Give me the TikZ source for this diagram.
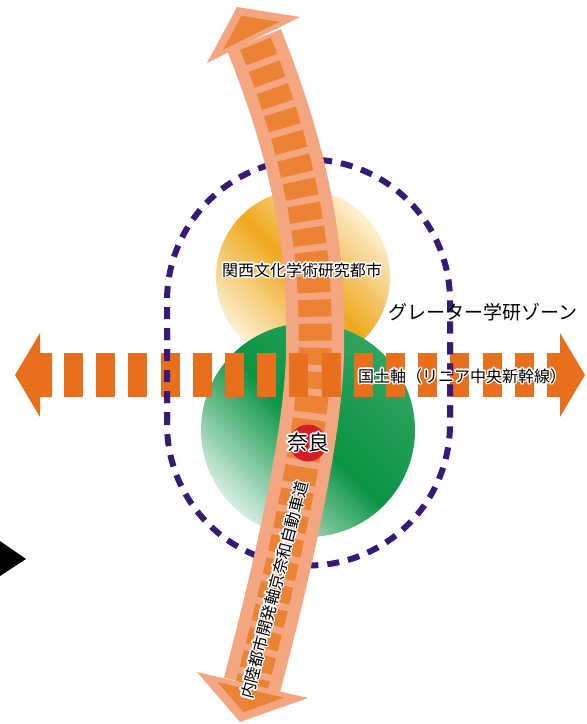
\documentclass[tikz,border=0pt]{standalone}
\usepackage{fontspec}
\setmainfont{Noto Sans CJK JP}
\usepackage{contour}
\contourlength{1.4pt}
\usetikzlibrary{calc}
\definecolor{railorange}{RGB}{232,112,28}
\definecolor{roadpeach}{RGB}{243,166,128}
\definecolor{roadrect}{RGB}{236,130,52}
\definecolor{zonepurple}{RGB}{56,26,118}
\definecolor{narared}{RGB}{215,28,40}
\definecolor{sunorange}{RGB}{238,168,30}
\definecolor{suncream}{RGB}{253,240,210}
\definecolor{hillgreen}{RGB}{10,148,68}
\definecolor{hillpale}{RGB}{214,238,226}
\newcommand{\zoneloop}{(167,424) -- (167,301) arc[start angle=180, end angle=360, radius=141.5] -- (450,424) arc[start angle=0, end angle=180, radius=141.5] -- cycle}
\newcommand{\roadline}{(roadtop) .. controls (282,110) and (316,210) .. (roadmid) .. controls (318,410) and (290,540) .. (roadend)}

\begin{document}
\begin{tikzpicture}[x=1pt, y=-1pt,
        road/.style={line width=58pt, draw=roadpeach},
        roadmarks/.style={line width=33pt, draw=roadrect, dash pattern=on 17pt off 7pt, dash phase=20pt},
        rail/.style={fill=railorange},
        zone/.style={draw=zonepurple, line width=6pt, dash pattern=on 12pt off 9pt},
        label/.style={inner sep=0pt, font=\fontsize{16}{18}\selectfont}
    ]
        \useasboundingbox (0,0) rectangle (587,724);

        \shade[top color=suncream, bottom color=suncream, middle color=sunorange, shading angle=-45] (303,277) circle (87);
        \shade[top color=hillgreen!85, bottom color=hillpale, middle color=hillgreen, shading angle=-45] (308,430) circle (107);

        \draw[zone] \zoneloop;

        \coordinate (roadtop) at (254,40);
        \coordinate (roadmid) at (315,330);
        \coordinate (roadend) at (252,685);
        \draw[road] \roadline;
        \draw[roadmarks] \roadline;

        \coordinate (headNL) at (207,63);
        \coordinate (headNR) at (300,17);
        \coordinate (headN) at (237,7);
        \coordinate (headNc) at ($0.3333*(headNL)+0.3333*(headNR)+0.3334*(headN)$);
        \fill[roadpeach] (headNL) -- (headN) -- (headNR) -- cycle;
        \fill[roadrect] ($(headNc)!0.6!(headNL)$) -- ($(headNc)!0.6!(headN)$) -- ($(headNc)!0.6!(headNR)$) -- cycle;

        \coordinate (headSL) at (197,672);
        \coordinate (headSR) at (308,698);
        \coordinate (headS) at (240,722);
        \coordinate (headSc) at ($0.3333*(headSL)+0.3333*(headSR)+0.3334*(headS)$);
        \fill[roadpeach] (headSL) -- (headS) -- (headSR) -- cycle;
        \fill[roadrect] ($(headSc)!0.6!(headSL)$) -- ($(headSc)!0.6!(headS)$) -- ($(headSc)!0.6!(headSR)$) -- cycle;

        \fill[rail] (15,375) -- (40,333) -- (40,353) -- (52,353) -- (52,397) -- (40,397) -- (40,417) -- cycle;
        \fill[rail] (585,375) -- (560,333) -- (560,353) -- (547,353) -- (547,397) -- (560,397) -- (560,417) -- cycle;
        \foreach \k in {0,...,14}
            \fill[rail] ({64+32.2*\k},353) rectangle ++(19,44);

        \begin{scope}
            \clip (0,330) rectangle (587,420);
            \draw[zone] \zoneloop;
        \end{scope}

        \fill (0,541) -- (26,559) -- (0,576) -- cycle;

        \node[label] (kansai) at (302,271) {\contour{white}{関西文化学術研究都市}};
        \node[label, font=\fontsize{19}{22}\selectfont] (gakken) at (483,312) {グレーター学研ゾーン};
        \node[label] (kokudo) at (462,377) {\contour{white}{国土軸（リニア中央新幹線）}};
        \node[circle, fill=narared, minimum size=37pt, inner sep=0pt] (naradot) at (308,443) {};
        \node[label, font=\fontsize{21}{24}\selectfont] (nara) at (naradot) {\contour{white}{奈良}};
        \node[label, rotate=75.5] (keinawa) at (275,590) {\contour{white}{内陸都市開発軸京奈和自動車道}};
    \end{tikzpicture}
\end{document}
